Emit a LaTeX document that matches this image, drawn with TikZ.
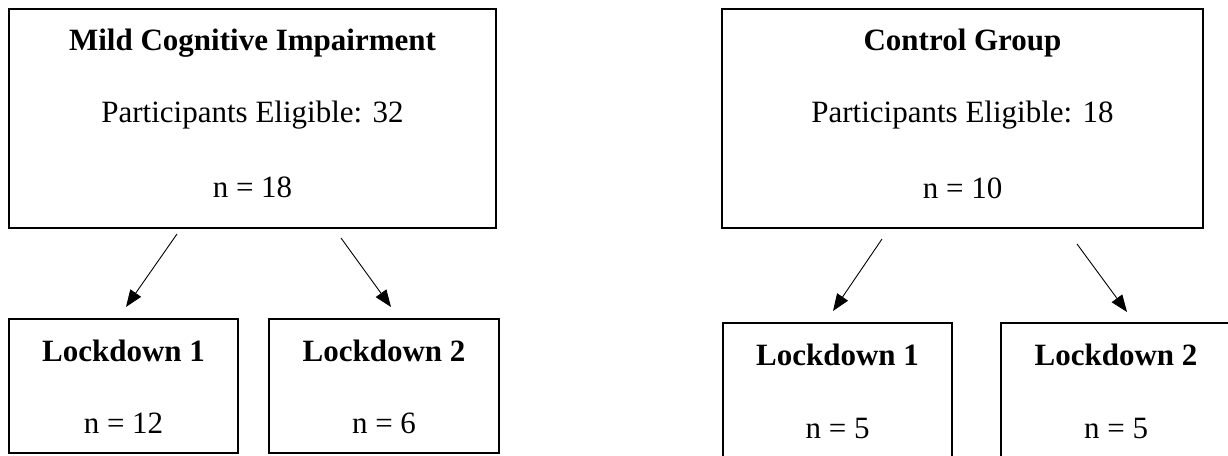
\documentclass[tikz,border=0pt]{standalone}
\usepackage{fontspec}
\setmainfont{Liberation Serif}
\usetikzlibrary{arrows.meta}
\begin{document}
\begin{tikzpicture}[x=1pt,y=-1pt,
  box/.style={draw=black,line width=1.3pt,inner sep=0pt,rectangle},
  txt/.style={anchor=base,inner sep=0pt,font=\fontsize{31}{37}\selectfont},
  ttl/.style={anchor=base,inner sep=0pt,font=\fontsize{31}{37}\selectfont\bfseries},
  arr/.style={draw=black,line width=0.9pt,-{Triangle[length=17pt,width=13pt]}}]
\useasboundingbox (0,0) rectangle (1228,455);
\fill[white] (0,0) rectangle (1228,455);
% Mild Cognitive Impairment
\node[box,minimum width=487pt,minimum height=219pt] (mci) at (252.5,118.5) {};
\node[ttl] (mcit) at (252.5,50) {Mild Cognitive Impairment};
\node[txt] (mcip) at (252.5,122) {Participants Eligible: 32};
\node[txt] (mcin) at (252.5,197) {n = 18};
\node[box,minimum width=229pt,minimum height=134pt] (mla) at (123.5,386) {};
\node[ttl] (mlat) at (123.5,361) {Lockdown 1};
\node[txt] (mlan) at (123.5,433) {n = 12};
\node[box,minimum width=230pt,minimum height=134pt] (mlb) at (384,386) {};
\node[ttl] (mlbt) at (384,361) {Lockdown 2};
\node[txt] (mlbn) at (384,433) {n = 6};
% Control Group
\node[box,minimum width=481pt,minimum height=219pt] (ctl) at (962.5,118.5) {};
\node[ttl] (ctlt) at (962.5,50) {Control Group};
\node[txt] (ctlp) at (962.5,122) {Participants Eligible: 18};
\node[txt] (ctln) at (962.5,198) {n = 10};
\node[box,minimum width=229pt,minimum height=137pt] (cla) at (837.5,391.5) {};
\node[ttl] (clat) at (837.5,365) {Lockdown 1};
\node[txt] (clan) at (837.5,438) {n = 5};
\node[box,minimum width=231pt,minimum height=137pt] (clb) at (1116.5,391.5) {};
\node[ttl] (clbt) at (1116,365) {Lockdown 2};
\node[txt] (clbn) at (1116,438) {n = 5};
% arrow end points
\coordinate (m1s) at (177,234); \coordinate (m1e) at (126,307);
\coordinate (m2s) at (341,238); \coordinate (m2e) at (391,307);
\coordinate (c1s) at (882,239); \coordinate (c1e) at (833,311);
\coordinate (c2s) at (1077,244); \coordinate (c2e) at (1127,312);
\draw[arr] (m1s) -- (m1e);
\draw[arr] (m2s) -- (m2e);
\draw[arr] (c1s) -- (c1e);
\draw[arr] (c2s) -- (c2e);
\end{tikzpicture}
\end{document}
